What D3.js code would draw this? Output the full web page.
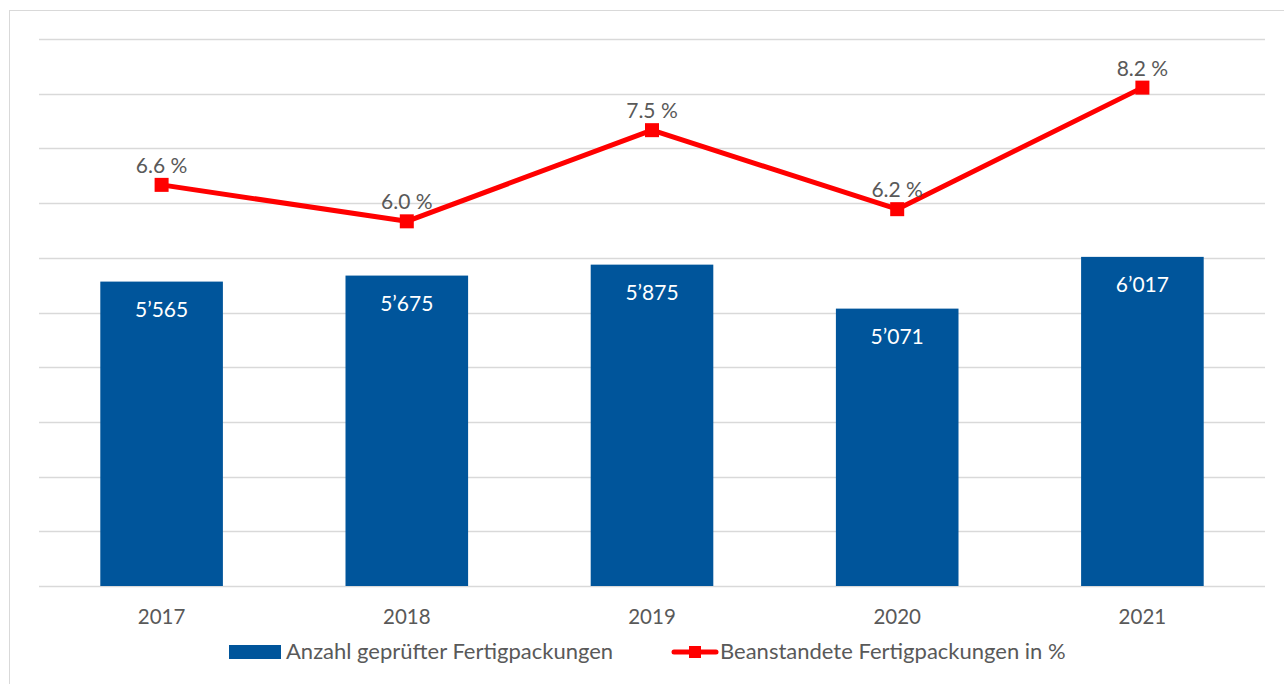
<!DOCTYPE html>
<html><head><meta charset="utf-8">
<script src="https://cdn.jsdelivr.net/npm/d3@7"></script>
<style>body{margin:0;background:#fff;}svg{display:block;}text{font-family:Lato,"Open Sans",sans-serif;}</style>
</head><body>
<svg id="c" width="1284" height="684"></svg>
<script>
const years = ["2017","2018","2019","2020","2021"];
const counts = [5565, 5675, 5875, 5071, 6017];
const countLabels = ["5’565","5’675","5’875","5’071","6’017"];
const percents = [6.6, 6.0, 7.5, 6.2, 8.2];
const percentLabels = ["6.6 %","6.0 %","7.5 %","6.2 %","8.2 %"];
const gridTicks = [0,1000,2000,3000,4000,5000,6000,7000,8000,9000,10000];
const legendLabels = ["Anzahl geprüfter Fertigpackungen","Beanstandete Fertigpackungen in %"];

const svg = d3.select("#c");
const blue = "#00559B", red = "#FF0000", txt = "#595959";
svg.append("rect").attr("x",9.5).attr("y",10.5).attr("width",1290).attr("height",690)
  .attr("fill","#fff").attr("stroke","#d9d9d9").attr("stroke-width",1);

const x = d3.scaleBand().domain(years).range([39,1265]).paddingInner(0.5).paddingOuter(0.25);
const y = d3.scaleLinear().domain([0,10000]).range([586,39]);
const y2 = d3.scaleLinear().domain([0,9]).range([586,39]);

svg.append("g").selectAll("line").data(gridTicks).join("line")
  .attr("x1",39).attr("x2",1265).attr("y1",d=>Math.round(y(d))+0.5).attr("y2",d=>Math.round(y(d))+0.5)
  .attr("stroke","#d9d9d9").attr("stroke-width",1.3);

svg.append("g").selectAll("rect").data(counts).join("rect")
  .attr("x",(d,i)=>x(years[i])).attr("width",x.bandwidth())
  .attr("y",d=>y(d)).attr("height",d=>y(0)-y(d)).attr("fill",blue);

svg.append("g").selectAll("text").data(counts).join("text")
  .attr("x",(d,i)=>x(years[i])+x.bandwidth()/2).attr("y",d=>y(d)+35)
  .attr("text-anchor","middle").attr("fill","#fff").attr("font-size",21)
  .text((d,i)=>countLabels[i]);

const cx = i => x(years[i])+x.bandwidth()/2;
const line = d3.line().x((d,i)=>cx(i)).y(d=>y2(d));
svg.append("path").datum(percents).attr("d",line).attr("fill","none")
  .attr("stroke",red).attr("stroke-width",5).attr("stroke-linejoin","round");
svg.append("g").selectAll("rect").data(percents).join("rect")
  .attr("x",(d,i)=>cx(i)-7).attr("y",d=>y2(d)-7).attr("width",14).attr("height",14).attr("fill",red);
svg.append("g").selectAll("text").data(percents).join("text")
  .attr("x",(d,i)=>cx(i)).attr("y",d=>y2(d)-12)
  .attr("text-anchor","middle").attr("fill",txt).attr("font-size",21)
  .text((d,i)=>percentLabels[i]);

svg.append("g").selectAll("text").data(years).join("text")
  .attr("x",d=>x(d)+x.bandwidth()/2).attr("y",624)
  .attr("text-anchor","middle").attr("fill",txt).attr("font-size",20.5).text(d=>d);

const lg = svg.append("g");
lg.append("rect").attr("x",229).attr("y",645).attr("width",52).attr("height",14).attr("fill",blue);
lg.append("text").attr("x",286).attr("y",659).attr("fill",txt).attr("font-size",22).text(legendLabels[0]);
lg.append("line").attr("x1",674).attr("x2",716).attr("y1",652).attr("y2",652)
  .attr("stroke",red).attr("stroke-width",5).attr("stroke-linecap","round");
lg.append("rect").attr("x",689).attr("y",646).attr("width",12).attr("height",12).attr("fill",red);
lg.append("text").attr("x",720).attr("y",659).attr("fill",txt).attr("font-size",22).text(legendLabels[1]);
</script>
</body></html>
